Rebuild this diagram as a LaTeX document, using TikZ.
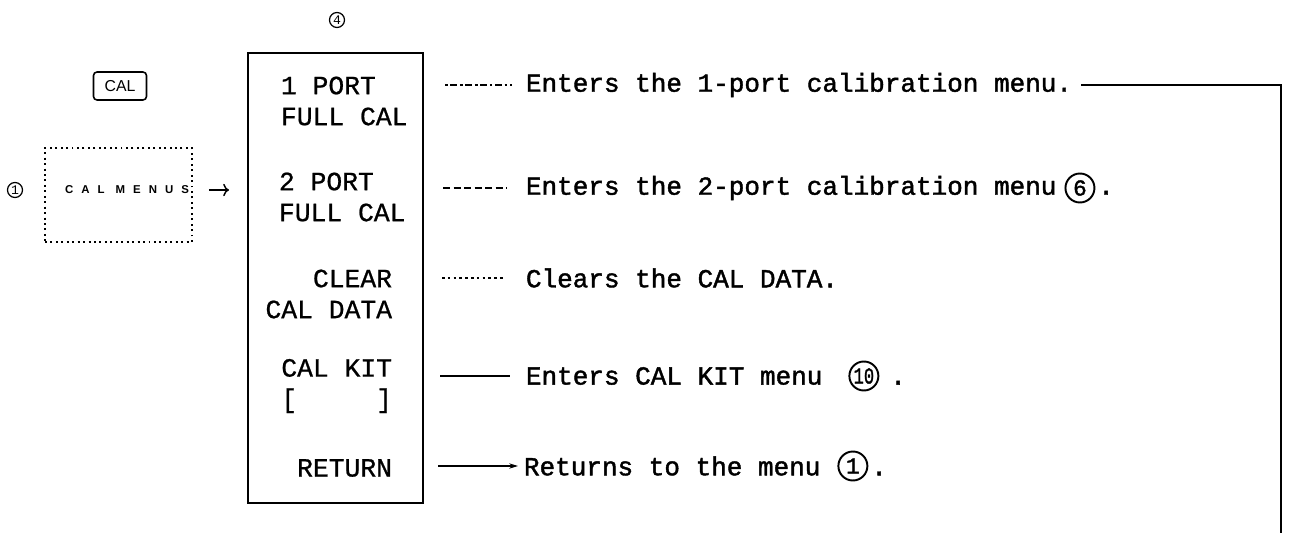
\documentclass[tikz,border=0pt]{standalone}
\usepackage{fontspec}
\setmainfont{Liberation Mono}
\newfontfamily\ecrit[FakeBold=1.6]{Liberation Mono}
\newfontfamily\ecran[FakeBold=0.8]{Liberation Mono}
\newfontfamily\touche[LetterSpace=70]{Liberation Sans}
\newfontfamily\clef{Liberation Sans}
\usetikzlibrary{arrows.meta, positioning}

\begin{document}
\begin{tikzpicture}[x=0.02cm, y=-0.02cm, line width=1.1pt,
	menu/.style={font=\ecran\fontsize{15}{17.6}\selectfont, inner sep=0pt},
	desc/.style={font=\ecrit\fontsize{14.8}{17}\selectfont, anchor=west, inner sep=0pt},
	rond/.style={circle, draw, inner sep=0pt, minimum size=0.58cm, font=\ecrit\fontsize{13}{13}\selectfont},
	petit/.style={circle, draw, line width=0.7pt, inner sep=0pt, minimum size=0.3cm, font=\fontsize{7.5}{7.5}\selectfont}]
	\useasboundingbox (0,0) rectangle (1290,533);
	% touche et menu de depart
	\node[draw, rounded corners=2pt, line width=0.9pt, minimum width=1.06cm, minimum height=0.56cm, font=\clef\fontsize{9}{9}\selectfont] (cal) at (120,86) {CAL};
	\node[petit] (n1) at (15,190) {1};
	\node[draw, dotted, minimum width=2.94cm, minimum height=1.88cm] (menus) at (118.5,195) {};
	\node[font=\touche\bfseries\fontsize{6.5}{6.5}\selectfont] (titre) at (127,190) {CAL MENUS};
	% cadre des touches
	\node[draw, minimum width=3.5cm, minimum height=9.0cm] (cle) at (335.5,278) {};
	\node[petit] (n4) at (337,20) {4};
	\draw[->, line width=0.8pt, shorten <=0.32cm, shorten >=0.36cm] (menus.east |- titre) -- (cle.west |- titre);
	\node[menu, anchor=west, align=left] (k1) at (280,101) {1 PORT\\FULL CAL};
	\node[menu, anchor=west, align=left] (k2) at (278,197) {2 PORT\\FULL CAL};
	\node[menu, anchor=east, align=right] (k3) at (393,294) {CLEAR\\CAL DATA};
	\node[menu, anchor=east, align=right] (k4) at (393,386) {CAL KIT\\{[}~~~~~{]}};
	\node[menu, anchor=east] (k5) at (393,468) {RETURN};
	% explications
	\node[desc] (t1) at (525,85) {Enters the 1-port calibration menu.};
	\node[desc] (t2) at (525,188) {Enters the 2-port calibration menu};
	\node[rond, right=0.14cm of t2] (n6) {6};
	\node[desc, anchor=base west] (p2) at ([xshift=0.04cm]n6.east |- t2.base) {.};
	\node[desc] (t3) at (525,278) {Clears the CAL DATA.};
	\node[desc] (t4) at (525,376) {Enters CAL KIT menu};
	\node[rond, right=0.5cm of t4] (n10) {\scalebox{0.75}[1]{10}};
	\node[desc, anchor=base west] (p4) at ([xshift=0.2cm]n10.east |- t4.base) {.};
	\node[desc] (t5) at (523,466) {Returns to the menu};
	\node[rond, right=0.32cm of t5] (n11) {1};
	\node[desc, anchor=base west] (p5) at ([xshift=0.04cm]n11.east |- t5.base) {.};
	% traits
	\coordinate (a1) at (445,85);
	\coordinate (a2) at (443,188);
	\coordinate (a3) at (442,278);
	\coordinate (a4) at (440,376);
	\coordinate (a5) at (438,466);
	\coordinate (bas) at (1281,533);
	\draw[dash pattern=on 1.5pt off 1.5pt on 4pt off 1.5pt] (a1) -- ([xshift=-0.26cm]t1.west);
	\draw[dash pattern=on 4pt off 2pt] (a2) -- ([xshift=-0.36cm]t2.west);
	\draw[dash pattern=on 1.5pt off 1.8pt] (a3) -- ([xshift=-0.44cm]t3.west);
	\draw (a4) -- ([xshift=-0.3cm]t4.west);
	\draw[-{Stealth[length=5pt, width=3pt]}] (a5) -- ([xshift=-0.1cm]t5.west);
	\draw ([xshift=0.16cm]t1.east) -| (bas);
\end{tikzpicture}
\end{document}
